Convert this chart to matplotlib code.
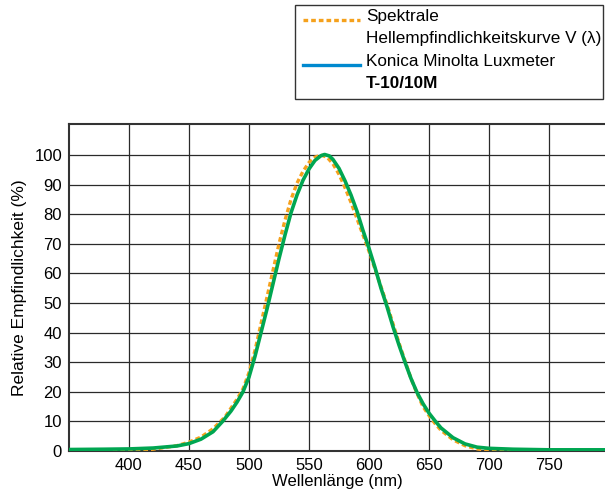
import matplotlib.pyplot as plt
from matplotlib.patches import Rectangle
from matplotlib.lines import Line2D
import numpy as np

plt.rcParams['font.family'] = ['Liberation Sans', 'DejaVu Sans']

# Spektrale Hellempfindlichkeitskurve V(lambda) (dotted, orange)
wl_v = [380, 400, 420, 440, 450, 460, 470, 480, 490, 495, 500, 505, 510, 515, 520,
        525, 530, 535, 540, 545, 550, 555, 560, 565, 570, 575, 580, 585, 590, 595,
        600, 605, 610, 615, 620, 625, 630, 635, 640, 645, 650, 655, 660, 670, 680,
        690, 700, 710, 720, 780]
val_v = [0.0, 0.2, 0.6, 1.8, 3.0, 4.7, 7.5, 11.5, 17.5, 21.0, 26.5, 34.0, 43.0, 52.0, 61.0,
         70.0, 78.0, 85.0, 90.5, 94.5, 97.5, 99.3, 100.0, 99.3, 97.0, 93.5, 89.0, 84.0, 78.5, 73.0,
         67.5, 61.5, 55.5, 49.5, 43.0, 36.5, 30.5, 24.5, 19.5, 15.0, 12.0, 9.3, 7.0, 3.8, 1.8,
         0.7, 0.2, 0.05, 0.0, 0.0]

# Konica Minolta Luxmeter T-10/10M (solid, green)
wl_t = [350, 380, 400, 420, 440, 450, 460, 470, 478, 485, 490, 495, 500, 505, 510,
        515, 520, 525, 530, 535, 540, 545, 550, 555, 560, 563, 567, 570, 575, 580,
        585, 590, 595, 600, 605, 610, 615, 620, 625, 630, 635, 640, 645, 650, 655,
        660, 670, 680, 690, 700, 720, 750, 800]
val_t = [0.5, 0.6, 0.7, 1.0, 1.7, 2.5, 4.0, 6.5, 10.0, 13.5, 16.5, 20.0, 25.0, 32.0, 40.0,
         48.0, 56.5, 65.0, 73.0, 80.5, 86.5, 91.5, 95.3, 98.2, 99.8, 100.2, 99.7, 98.5, 95.5, 91.3,
         86.5, 81.0, 74.5, 68.5, 62.0, 55.0, 48.8, 42.0, 35.8, 30.0, 24.5, 19.8, 16.0, 12.8, 10.2,
         7.8, 4.5, 2.4, 1.3, 0.9, 0.6, 0.4, 0.4]

x_ticks = [400, 450, 500, 550, 600, 650, 700, 750]
y_ticks = [0, 10, 20, 30, 40, 50, 60, 70, 80, 90, 100]

orange = '#F5A11C'
green = '#00A651'
blue = '#0089CF'

fig = plt.figure(figsize=(6.05, 4.94), dpi=100)
ax = fig.add_axes([69 / 605, 1 - 451 / 494, 1 - 69 / 605, (451 - 124) / 494])

ax.plot(wl_v, val_v, color=orange, linestyle=(0, (1.4, 0.9)), linewidth=2.4, zorder=3)
ax.plot(wl_t, val_t, color=green, linewidth=2.6, zorder=4)

ax.set_xlim(350, 350 + 536 / 1.2)
ax.set_ylim(0, 110.5)
ax.set_xticks(x_ticks)
ax.set_yticks(y_ticks)
ax.tick_params(length=0, labelsize=12, pad=5)
ax.grid(True, color='#2a2a2a', linewidth=0.9)
ax.set_axisbelow(True)
ax.spines['right'].set_visible(False)
for s in ['left', 'bottom', 'top']:
    ax.spines[s].set_color('#333333')
    ax.spines[s].set_linewidth(1.5)

ax.set_xlabel('Wellenlänge (nm)', fontsize=12, labelpad=1)
ax.set_ylabel('Relative Empfindlichkeit (%)', fontsize=12.5, labelpad=5)

# legend box drawn in figure pixel coords
lg = fig.add_axes([0, 0, 1, 1], facecolor='none')
lg.set_xlim(0, 605)
lg.set_ylim(494, 0)
lg.axis('off')
lg.add_patch(Rectangle((294.5, 5), 308, 94, fill=False, edgecolor='#333333', linewidth=1.0))
lg.add_line(Line2D([303, 360], [20, 20], color=orange, linestyle=(0, (1.4, 0.9)), linewidth=2.4))
lg.add_line(Line2D([303, 360], [65, 65], color=blue, linewidth=2.4))
lg.text(366, 17, 'Spektrale', fontsize=12.3, va='center', ha='left')
lg.text(366, 38, 'Hellempfindlichkeitskurve V (λ)', fontsize=12.3, va='center', ha='left')
lg.text(366, 62, 'Konica Minolta Luxmeter', fontsize=12.3, va='center', ha='left')
lg.text(366, 83, 'T-10/10M', fontsize=12.3, va='center', ha='left', fontweight='bold')

fig.savefig('out.png', dpi=100)
